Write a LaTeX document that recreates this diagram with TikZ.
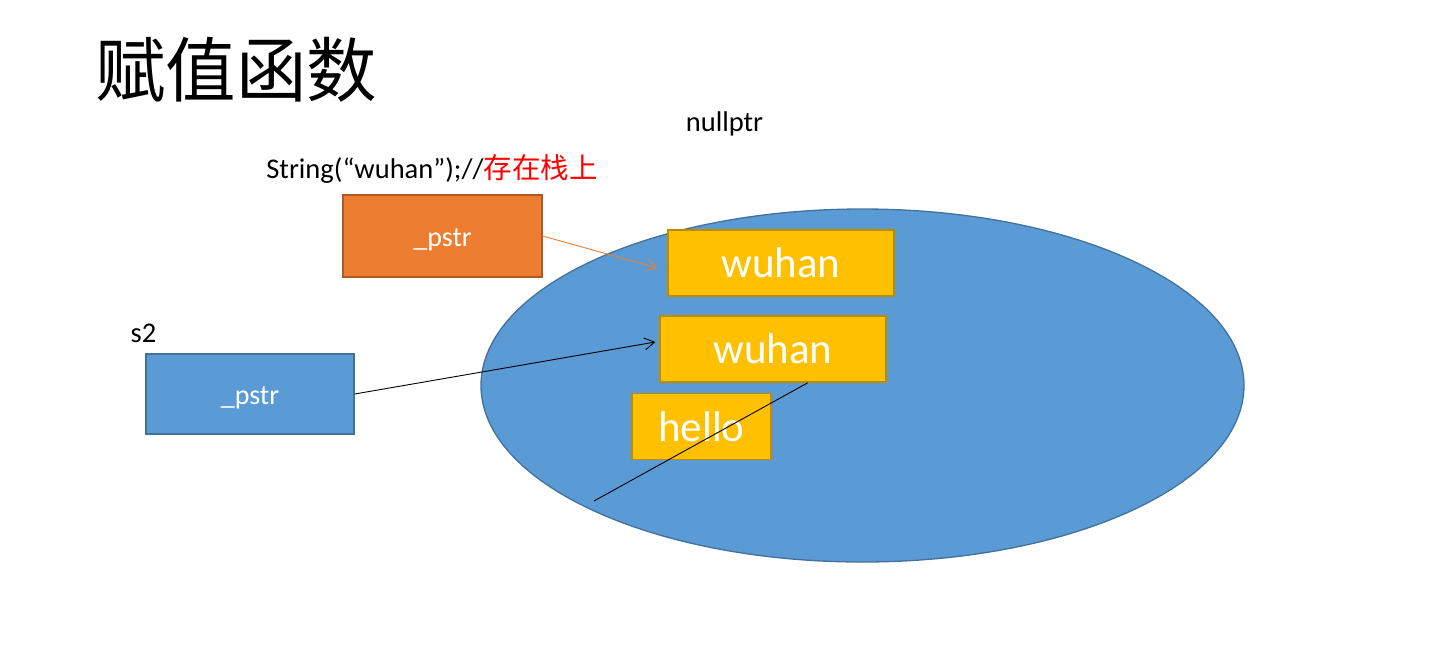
\documentclass[tikz,border=0pt]{standalone}
\usepackage{fontspec}
\setmainfont{Carlito}
\newfontfamily\cjk{Noto Sans CJK SC}
\usetikzlibrary{shapes.geometric,arrows.meta}
\definecolor{heapblue}{HTML}{5B9BD5}
\definecolor{heapedge}{HTML}{41719C}
\definecolor{tmporange}{HTML}{ED7D31}
\definecolor{tmpedge}{HTML}{AE5A21}
\definecolor{stryellow}{HTML}{FFC000}
\definecolor{stredge}{HTML}{BC8C00}

\begin{document}
\begin{tikzpicture}[x=1pt,y=-1pt,>={Straight Barb[length=10pt,width=12pt]},
  txt/.style={inner sep=0pt,font=\fontsize{28.5}{34}\selectfont},
  objbox/.style={draw,line width=1.3pt,minimum width=#1,text=white,inner sep=0pt,text height=21pt,text depth=0pt,font=\fontsize{28}{34}\selectfont},
  strbox/.style={draw=stredge,fill=stryellow,line width=1.3pt,minimum width=#1,minimum height=66pt,text=white,inner sep=0pt,font=\fontsize{43}{50}\selectfont}]
 \useasboundingbox (0,0) rectangle (1453,665);

 \node[inner sep=0pt,font=\cjk\fontsize{70.5}{80}\selectfont] (title) at (236,70) {赋值函数};
 \node[txt] (null) at (724.5,124) {nullptr};
 \node[txt] (code) at (432,169) {String(“wuhan”);//\textcolor{red}{\cjk 存在栈上}};
 \node[txt] (s2lbl) at (143.5,333) {s2};

 \node[draw=heapedge,fill=heapblue,line width=1.3pt,ellipse,minimum width=763pt,minimum height=353pt,inner sep=0pt] (heap) at (862.5,385.5) {};

 \node[objbox=199pt,draw=tmpedge,fill=tmporange,minimum height=82pt] (ptmp) at (442.5,236) {\_pstr};
 \node[objbox=208pt,draw=heapedge,fill=heapblue,minimum height=80pt] (ps2) at (250,394) {\_pstr};

 \node[strbox=226pt] (wuhan1) at (781,263) {wuhan};
 \node[strbox=226pt] (wuhan2) at (773,349) {wuhan};
 \node[strbox=139pt] (hello) at (701.5,426.5) {hello};

 \coordinate (tail) at (594,501);
 \draw[->,tmporange,line width=0.9pt] (ptmp.east) -- ([xshift=-10pt,yshift=-5pt]wuhan1.west);
 \draw[->,line width=0.9pt] (ps2.east) -- ([xshift=-4pt,yshift=7pt]wuhan2.west);
 \draw[line width=0.9pt] ([xshift=35pt]wuhan2.south) -- (tail);
\end{tikzpicture}
\end{document}
